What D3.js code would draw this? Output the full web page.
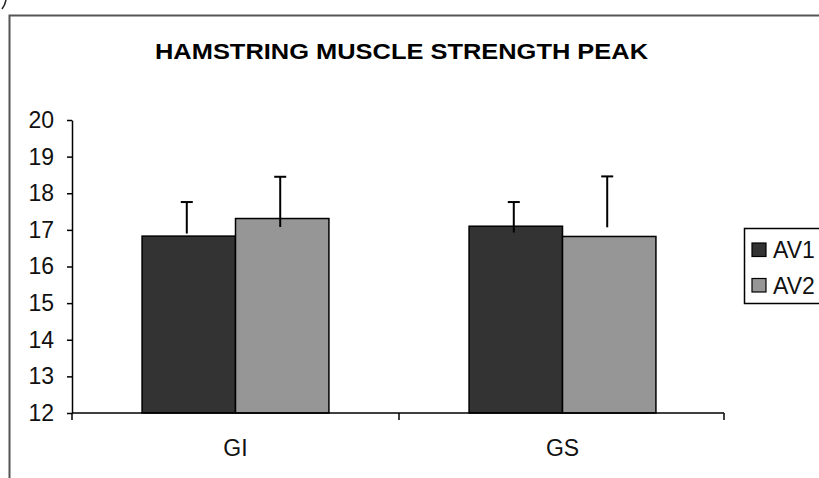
<!DOCTYPE html>
<html>
<head>
<meta charset="utf-8">
<script src="https://cdn.jsdelivr.net/npm/d3@7"></script>
<style>
  html, body { margin: 0; background: #fff; overflow: hidden; }
  svg { display: block; }
  svg text { font-family: "Liberation Sans", Arial, sans-serif; fill: #000; }
</style>
</head>
<body>
<svg id="chart" width="819" height="478"></svg>
<script>
// Data
const categories = ["GI", "GS"];
const series = ["AV1", "AV2"];
const av1Values = [16.83, 17.10];
const av2Values = [17.31, 16.82];
// error bar: top of whisker and where the whisker line starts
const av1ErrTop = [17.76, 17.76];
const av2ErrTop = [18.45, 18.46];
const av1ErrFrom = [16.90, 16.93];
const av2ErrFrom = [17.08, 17.07];
const yTicks = [12, 13, 14, 15, 16, 17, 18, 19, 20];

const colors = { AV1: "#333333", AV2: "#969696" };

let svg = d3.select("#chart");

// outer chart frame: only top and left edges are inside the picture
svg.append("path")
    .attr("d", "M9.5,478V15.5H819")
    .attr("fill", "none")
    .attr("stroke", "#555")
    .attr("stroke-width", 2);

// leftover stroke of a bracket from the page above
svg.append("path")
    .attr("d", "M6,0 Q5,5 2,9")
    .attr("fill", "none")
    .attr("stroke", "#222")
    .attr("stroke-width", 1.5);

// Title
svg.append("text")
    .attr("x", 155).attr("y", 59)
    .attr("textLength", 493)
    .attr("lengthAdjust", "spacingAndGlyphs")
    .style("font-size", "22px")
    .style("font-weight", "bold")
    .text("HAMSTRING MUSCLE STRENGTH PEAK");

// Scales
let x0 = d3.scaleBand().domain(categories).range([72, 726]);
let x1 = d3.scaleBand().domain(series).range([0, x0.bandwidth()])
    .paddingInner(0).paddingOuter(0.75);
let y = d3.scaleLinear().domain([12, 20]).range([413, 120]);

// build rows
let rows = [];
categories.forEach((c, i) => {
    rows.push({ cat: c, s: "AV1", v: av1Values[i], top: av1ErrTop[i], from: av1ErrFrom[i] });
    rows.push({ cat: c, s: "AV2", v: av2Values[i], top: av2ErrTop[i], from: av2ErrFrom[i] });
});

// Bars
svg.append("g").selectAll("rect")
    .data(rows)
    .join("rect")
    .attr("x", d => x0(d.cat) + x1(d.s))
    .attr("y", d => y(d.v))
    .attr("width", x1.bandwidth())
    .attr("height", d => y(12) - y(d.v))
    .attr("fill", d => colors[d.s])
    .attr("stroke", "#000")
    .attr("stroke-width", 1.5);

// Error bars
let eb = svg.append("g").attr("stroke", "#000").attr("stroke-width", 2);
rows.forEach(d => {
    let cx = x0(d.cat) + x1(d.s) + x1.bandwidth() / 2 - 2;
    eb.append("line")
        .attr("x1", cx).attr("x2", cx)
        .attr("y1", y(d.from)).attr("y2", y(d.top));
    eb.append("line")
        .attr("x1", cx - 6).attr("x2", cx + 6)
        .attr("y1", y(d.top)).attr("y2", y(d.top));
});

// Y axis
let yAxis = svg.append("g")
    .attr("transform", "translate(72,0)")
    .call(d3.axisLeft(y).tickValues(yTicks).tickSize(5).tickSizeOuter(0).tickPadding(13));
yAxis.select(".domain").attr("stroke", "#000").attr("stroke-width", 1.5);
yAxis.selectAll(".tick line").attr("stroke", "#000").attr("stroke-width", 1.5);
yAxis.selectAll("text")
    .style("font-size", "23px")
    .style("fill", "#111")
    .style("font-family", "Liberation Sans, Arial, sans-serif");

// X axis
let xAxis = svg.append("g")
    .attr("transform", "translate(0,413)")
    .call(d3.axisBottom(x0).tickSize(0).tickSizeOuter(0).tickPadding(27));
xAxis.select(".domain").attr("stroke", "#000").attr("stroke-width", 1.5)
    .attr("d", "M72,0H724");
xAxis.selectAll("text")
    .style("font-size", "23px")
    .style("fill", "#111")
    .style("font-family", "Liberation Sans, Arial, sans-serif");
// boundary ticks between categories
let edges = categories.map(c => x0(c)).concat([724]);
xAxis.selectAll(".edge")
    .data(edges)
    .join("line")
    .attr("class", "edge")
    .attr("x1", d => d).attr("x2", d => d)
    .attr("y1", 0).attr("y2", 7)
    .attr("stroke", "#000")
    .attr("stroke-width", 1.5);

// Legend (box runs off the right edge)
let legend = svg.append("g");
legend.append("path")
    .attr("d", "M819,228.5H744.5V303.5H819")
    .attr("fill", "#fff")
    .attr("stroke", "#000")
    .attr("stroke-width", 1.5);
series.forEach((s, i) => {
    let yy = 243 + i * 35.5;
    legend.append("rect")
        .attr("x", 752).attr("y", yy)
        .attr("width", 14).attr("height", 13.5)
        .attr("fill", colors[s])
        .attr("stroke", "#000")
        .attr("stroke-width", 1.2);
    legend.append("text")
        .attr("x", 773).attr("y", yy + 15)
        .style("font-size", "23px")
        .style("fill", "#111")
        .text(s);
});
</script>
</body>
</html>
